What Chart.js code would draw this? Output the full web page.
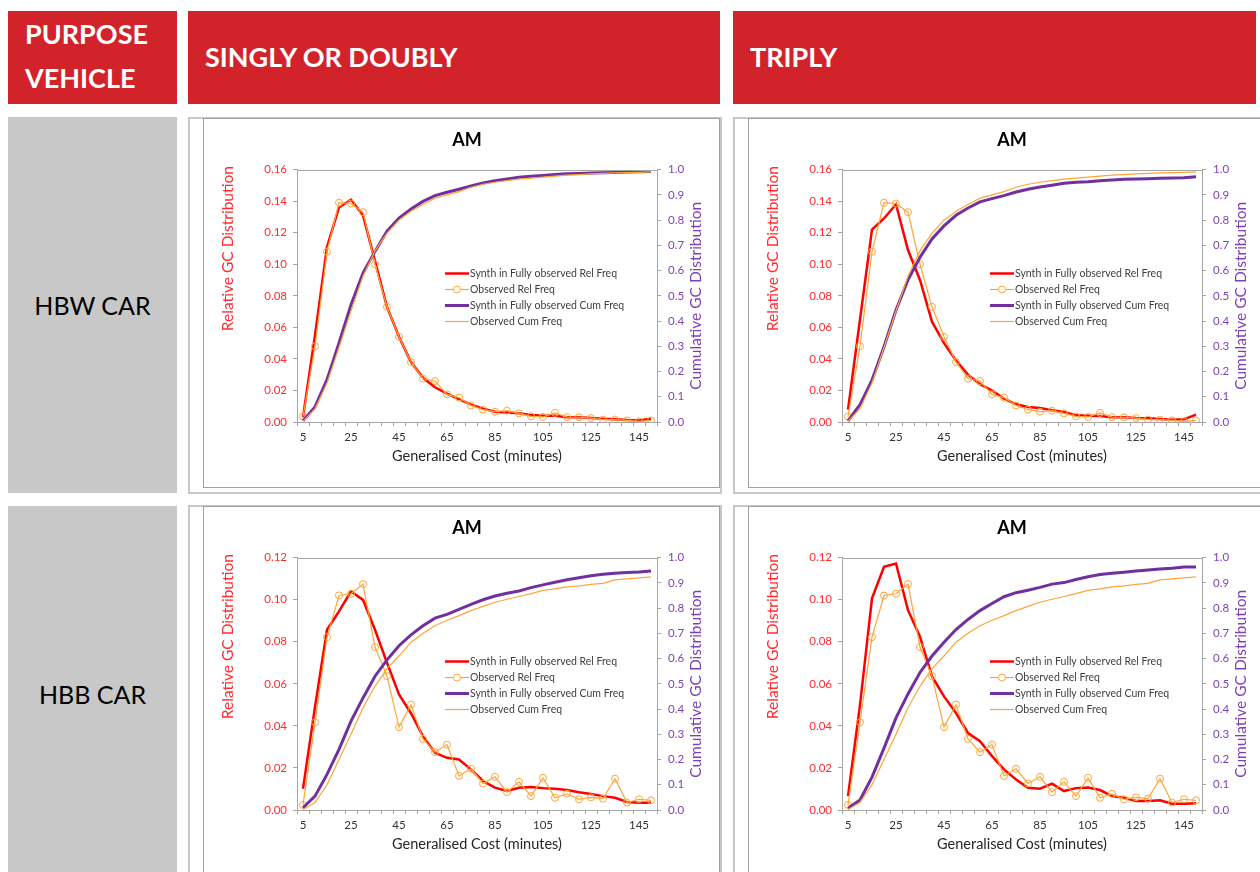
<!DOCTYPE html>
<html>
<head>
<meta charset="utf-8">
<title>Generalised cost distributions - AM</title>
<script src="https://cdn.jsdelivr.net/npm/chart.js@4.4.1/dist/chart.umd.min.js"></script>
<style>
  html, body { margin: 0; padding: 0; background: #fff; overflow: hidden; }
  body { width: 1260px; height: 872px; position: relative; font-family: Lato, "Open Sans", sans-serif; }
  .hdr { position: absolute; background: #d2232a; color: #fff; font-weight: bold; font-size: 27px; box-sizing: border-box; white-space: nowrap; }
  .row-label { position: absolute; left: 8px; width: 169px; height: 376px; background: #c8c8c8; color: #000;
               font-size: 25px; display: flex; align-items: center; justify-content: center; }
  .cell { position: absolute; width: 534px; height: 377px; border: 2px solid #c8c8c8; box-sizing: border-box; }
  .frame { position: absolute; width: 517px; height: 370px; border: 1px solid #a0a0a0; box-sizing: border-box; background: #fff; overflow: hidden; }
  .frame canvas { display: block; }
</style>
</head>
<body>

<div class="hdr" style="left:8px; top:11px; width:169px; height:93px; padding:1px 0 0 17px; line-height:44px;">PURPOSE<br>VEHICLE</div>
<div class="hdr" style="left:188px; top:11px; width:532px; height:93px; padding-left:17px; line-height:91px;">SINGLY OR DOUBLY</div>
<div class="hdr" style="left:733px; top:11px; width:523px; height:93px; padding-left:17px; line-height:91px;">TRIPLY</div>

<div class="row-label" style="top:117px;">HBW CAR</div>
<div class="row-label" style="top:506px;">HBB CAR</div>

<div class="cell" style="left:188px; top:117px;"></div>
<div class="cell" style="left:733px; top:117px;"></div>
<div class="cell" style="left:188px; top:505px;"></div>
<div class="cell" style="left:733px; top:505px;"></div>

<div class="frame" style="left:203px; top:118px;"><canvas id="hbwSingly" width="514" height="368"></canvas></div>
<div class="frame" style="left:748px; top:118px;"><canvas id="hbwTriply" width="514" height="368"></canvas></div>
<div class="frame" style="left:203px; top:506px;"><canvas id="hbbSingly" width="514" height="368"></canvas></div>
<div class="frame" style="left:748px; top:506px;"><canvas id="hbbTriply" width="514" height="368"></canvas></div>

<script>
// Generalised cost bands (minutes)
const costBands = [5, 10, 15, 20, 25, 30, 35, 40, 45, 50, 55, 60, 65, 70, 75,
                   80, 85, 90, 95, 100, 105, 110, 115, 120, 125, 130, 135, 140, 145, 150];

// HBW car - observed (same in both columns)
const hbwObsRel = [0.0035, 0.048, 0.108, 0.139, 0.1385, 0.133, 0.100, 0.073, 0.054, 0.038,
                   0.0275, 0.026, 0.0175, 0.0155, 0.0105, 0.0078, 0.0065, 0.0072, 0.0055, 0.0036,
                   0.0032, 0.0058, 0.0031, 0.003, 0.0025, 0.0015, 0.0015, 0.001, 0.0004, 0.001];
const hbwObsCum = [0.003, 0.052, 0.155, 0.295, 0.44, 0.578, 0.678, 0.748, 0.8, 0.835,
                   0.862, 0.887, 0.9, 0.913, 0.93, 0.942, 0.95, 0.956, 0.962, 0.966,
                   0.97, 0.974, 0.978, 0.98, 0.983, 0.985, 0.987, 0.988, 0.989, 0.991];

// HBW car - synthesised, singly or doubly
const hbwSinglyRel = [0.003, 0.055, 0.111, 0.136, 0.141, 0.131, 0.102, 0.073, 0.054, 0.038,
                      0.028, 0.022, 0.018, 0.0145, 0.011, 0.0085, 0.0065, 0.006, 0.0055, 0.0045,
                      0.004, 0.004, 0.003, 0.003, 0.0025, 0.002, 0.0018, 0.0012, 0.001, 0.002];
const hbwSinglyCum = [0.005, 0.06, 0.168, 0.313, 0.465, 0.59, 0.676, 0.756, 0.808, 0.844,
                      0.874, 0.897, 0.91, 0.922, 0.935, 0.947, 0.956, 0.963, 0.97, 0.974,
                      0.977, 0.981, 0.984, 0.985, 0.987, 0.988, 0.989, 0.99, 0.991, 0.992];

// HBW car - synthesised, triply
const hbwTriplyRel = [0.0078, 0.065, 0.122, 0.129, 0.138, 0.109, 0.09, 0.0636, 0.05, 0.039,
                      0.03, 0.024, 0.02, 0.0148, 0.0112, 0.0095, 0.0089, 0.0074, 0.0064, 0.0042,
                      0.004, 0.0038, 0.003, 0.003, 0.0025, 0.0023, 0.0019, 0.0015, 0.0017, 0.0047];
const hbwTriplyCum = [0.004, 0.069, 0.166, 0.298, 0.444, 0.563, 0.653, 0.725, 0.777, 0.819,
                      0.848, 0.872, 0.885, 0.897, 0.911, 0.922, 0.931, 0.938, 0.946, 0.95,
                      0.952, 0.956, 0.959, 0.962, 0.963, 0.964, 0.966, 0.967, 0.968, 0.972];

// HBB car - observed (same in both columns)
const hbbObsRel = [0.0024, 0.0417, 0.0822, 0.102, 0.1028, 0.1074, 0.0775, 0.0636, 0.0394, 0.0501,
                   0.0338, 0.0275, 0.0311, 0.0162, 0.0196, 0.0126, 0.0158, 0.0085, 0.0134, 0.0066,
                   0.0153, 0.0058, 0.0077, 0.0051, 0.006, 0.0054, 0.0149, 0.0035, 0.0051, 0.0046];
const hbbObsCum = [0.002, 0.03, 0.1, 0.2, 0.3, 0.405, 0.49, 0.56, 0.61, 0.665,
                   0.7, 0.73, 0.752, 0.77, 0.79, 0.807, 0.823, 0.835, 0.846, 0.857,
                   0.87, 0.876, 0.884, 0.888, 0.894, 0.898, 0.912, 0.916, 0.92, 0.924];

// HBB car - synthesised, singly or doubly
const hbbSinglyRel = [0.0101, 0.049, 0.0857, 0.0944, 0.104, 0.0999, 0.0857, 0.07, 0.0549, 0.046,
                      0.035, 0.0272, 0.0248, 0.024, 0.0193, 0.0138, 0.0106, 0.009, 0.0106, 0.0109,
                      0.0104, 0.0101, 0.0095, 0.0084, 0.0076, 0.0066, 0.0058, 0.0038, 0.0035, 0.0035];
const hbbSinglyCum = [0.009, 0.055, 0.141, 0.24, 0.352, 0.444, 0.53, 0.595, 0.651, 0.694,
                      0.73, 0.76, 0.775, 0.795, 0.815, 0.833, 0.848, 0.859, 0.868, 0.881,
                      0.892, 0.902, 0.912, 0.92, 0.928, 0.934, 0.938, 0.941, 0.943, 0.947];

// HBB car - synthesised, triply
const hbbTriplyRel = [0.0066, 0.05, 0.1006, 0.1156, 0.1172, 0.095, 0.0824, 0.0635, 0.054, 0.0461,
                      0.0366, 0.0327, 0.0256, 0.0193, 0.0145, 0.0106, 0.0101, 0.0125, 0.009, 0.0104,
                      0.0107, 0.0095, 0.0066, 0.0058, 0.0043, 0.0043, 0.0046, 0.003, 0.003, 0.0032];
const hbbTriplyCum = [0.007, 0.04, 0.13, 0.245, 0.365, 0.46, 0.545, 0.61, 0.665, 0.715,
                      0.755, 0.79, 0.818, 0.845, 0.861, 0.871, 0.882, 0.895, 0.901, 0.913,
                      0.924, 0.933, 0.938, 0.942, 0.947, 0.951, 0.955, 0.958, 0.963, 0.963];

const seriesNames = ["Synth in Fully observed Rel Freq", "Observed Rel Freq",
                     "Synth in Fully observed Cum Freq", "Observed Cum Freq"];

const RED = "#ff0000";
const ORANGE = "#ffa538";
const PURPLE = "#7030a0";
const AXIS_GREY = "#a6a6a6";
const LEFT_TEXT = "#ff2d2d";
const RIGHT_TEXT = "#7f3fb8";

Chart.defaults.font.family = "Lato, 'Open Sans', sans-serif";
Chart.defaults.animation = false;

// plot frame top line, axis titles (both read bottom-to-top) and the in-plot legend
const gcDecor = {
  id: "gcDecor",
  afterDraw(chart) {
    const ctx = chart.ctx;
    const ca = chart.chartArea;

    ctx.save();
    ctx.strokeStyle = AXIS_GREY;
    ctx.lineWidth = 1;
    ctx.beginPath();
    ctx.moveTo(ca.left, Math.round(ca.top) + 0.5);
    ctx.lineTo(ca.right, Math.round(ca.top) + 0.5);
    ctx.stroke();
    ctx.restore();

    ctx.save();
    ctx.font = "15.5px Lato";
    ctx.textAlign = "center";
    ctx.textBaseline = "middle";
    ctx.fillStyle = LEFT_TEXT;
    ctx.translate(24, ca.top + 79);
    ctx.rotate(-Math.PI / 2);
    ctx.fillText("Relative GC Distribution", 0, 0);
    ctx.restore();

    ctx.save();
    ctx.font = "15.5px Lato";
    ctx.textAlign = "center";
    ctx.textBaseline = "middle";
    ctx.fillStyle = RIGHT_TEXT;
    ctx.translate(ca.right + 39, (ca.top + ca.bottom) / 2);
    ctx.rotate(-Math.PI / 2);
    ctx.fillText("Cumulative GC Distribution", 0, 0);
    ctx.restore();

    // legend
    ctx.save();
    ctx.font = "10.5px Lato";
    ctx.textBaseline = "middle";
    ctx.textAlign = "left";
    chart.data.datasets.forEach((ds, i) => {
      const y = Math.round(ca.top + 103 + i * 16.2) + 0.5;
      const x0 = ca.left + 148;
      const x1 = ca.left + 172;
      ctx.strokeStyle = ds.borderColor;
      ctx.lineWidth = ds.borderWidth;
      ctx.beginPath();
      ctx.moveTo(x0, y);
      ctx.lineTo(x1, y);
      ctx.stroke();
      if (ds.pointRadius > 0) {
        ctx.lineWidth = 1;
        ctx.fillStyle = "#fff";
        ctx.beginPath();
        ctx.arc((x0 + x1) / 2, y, ds.pointRadius, 0, Math.PI * 2);
        ctx.fill();
        ctx.stroke();
      }
      ctx.fillStyle = "#404040";
      ctx.fillText(ds.label, x1 + 1, y);
    });
    ctx.restore();
  }
};

function makeChart(canvasId, synthRel, obsRel, synthCum, obsCum, relMax) {
  return new Chart(document.getElementById(canvasId), {
    type: "line",
    data: {
      labels: costBands,
      datasets: [
        {
          label: seriesNames[0], data: synthRel, yAxisID: "y",
          borderColor: RED, backgroundColor: RED, borderWidth: 2.5,
          pointRadius: 0, order: 4,
        },
        {
          label: seriesNames[1], data: obsRel, yAxisID: "y",
          borderColor: ORANGE, backgroundColor: "rgba(255,255,255,0)", borderWidth: 1.2,
          pointRadius: 3.5, pointBorderWidth: 1, pointBorderColor: ORANGE,
          pointBackgroundColor: "rgba(255,255,255,0)", order: 3,
        },
        {
          label: seriesNames[2], data: synthCum, yAxisID: "y1",
          borderColor: PURPLE, backgroundColor: PURPLE, borderWidth: 3,
          pointRadius: 0, order: 2,
        },
        {
          label: seriesNames[3], data: obsCum, yAxisID: "y1",
          borderColor: ORANGE, backgroundColor: ORANGE, borderWidth: 1.2,
          pointRadius: 0, order: 1,
        },
      ],
    },
    options: {
      responsive: false,
      animation: false,
      events: [],
      layout: { padding: { left: 12, right: 0, top: 0, bottom: 0 } },
      elements: { line: { tension: 0 } },
      plugins: {
        legend: { display: false },
        tooltip: { enabled: false },
        title: {
          display: true,
          text: "AM",
          color: "#000",
          font: { size: 18, weight: "bold" },
          padding: { top: 10, bottom: 19 },
        },
      },
      scales: {
        x: {
          type: "category",
          offset: true,
          afterFit: (scale) => { scale.height = 65; },
          grid: { display: true, drawOnChartArea: false, offset: true, tickLength: 4, color: AXIS_GREY },
          border: { color: AXIS_GREY, width: 1 },
          ticks: {
            autoSkip: false,
            maxRotation: 0,
            padding: 4,
            color: "#333333",
            font: { size: 11.5 },
            callback: function (value, index) {
              return index % 4 === 0 ? this.getLabelForValue(value) : "";
            },
          },
          title: {
            display: true,
            text: "Generalised Cost (minutes)",
            color: "#262626",
            font: { size: 14.5 },
            padding: { top: 0, bottom: 22 },
          },
        },
        y: {
          position: "left",
          min: 0,
          max: relMax,
          afterFit: (scale) => { scale.width = 81; },
          grid: { drawOnChartArea: false, tickLength: 4, color: AXIS_GREY },
          border: { color: AXIS_GREY, width: 1 },
          ticks: {
            stepSize: 0.02,
            padding: 6,
            color: LEFT_TEXT,
            font: { size: 11.5 },
            callback: (v) => v.toFixed(2),
          },
        },
        y1: {
          position: "right",
          min: 0,
          max: 1,
          afterFit: (scale) => { scale.width = 61; },
          grid: { drawOnChartArea: false, tickLength: 4, color: AXIS_GREY },
          border: { color: AXIS_GREY, width: 1 },
          ticks: {
            stepSize: 0.1,
            padding: 7,
            color: RIGHT_TEXT,
            font: { size: 11.5 },
            callback: (v) => v.toFixed(1),
          },
        },
      },
    },
    plugins: [gcDecor],
  });
}

makeChart("hbwSingly", hbwSinglyRel, hbwObsRel, hbwSinglyCum, hbwObsCum, 0.16);
makeChart("hbwTriply", hbwTriplyRel, hbwObsRel, hbwTriplyCum, hbwObsCum, 0.16);
makeChart("hbbSingly", hbbSinglyRel, hbbObsRel, hbbSinglyCum, hbbObsCum, 0.12);
makeChart("hbbTriply", hbbTriplyRel, hbbObsRel, hbbTriplyCum, hbbObsCum, 0.12);
</script>
</body>
</html>
